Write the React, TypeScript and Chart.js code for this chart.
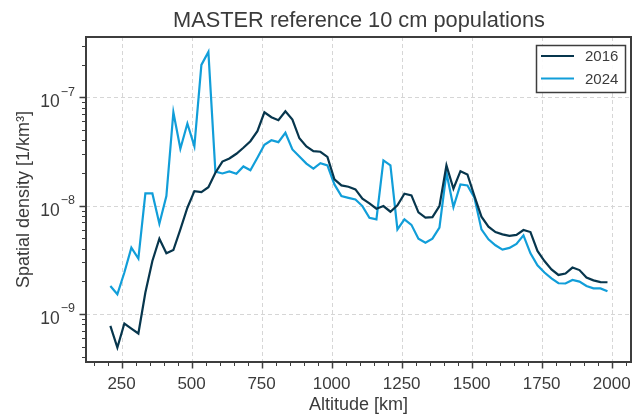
import { useEffect, useRef } from "react";
import { Chart, registerables } from "chart.js";

Chart.register(...registerables);

const altitudes = [
  210, 235, 260, 285, 310, 335, 360, 385, 410, 435, 460, 485, 510, 535, 560, 585,
  610, 635, 660, 685, 710, 735, 760, 785, 810, 835, 860, 885, 910, 935, 960, 985,
  1010, 1035, 1060, 1085, 1110, 1135, 1160, 1185, 1210, 1235, 1260, 1285, 1310, 1335, 1360, 1385,
  1410, 1435, 1460, 1485, 1510, 1535, 1560, 1585, 1610, 1635, 1660, 1685, 1710, 1735, 1760, 1785,
  1810, 1835, 1860, 1885, 1910, 1935, 1960, 1985,
];

const density2016 = [
  7.75e-10, 4.9e-10, 8.16e-10, 7.33e-10, 6.6e-10, 1.575e-9, 3.08e-9, 4.95e-9, 3.63e-9, 3.89e-9, 6.03e-9, 9.56e-9, 1.36e-8, 1.33e-8, 1.48e-8, 2.01e-8,
  2.55e-8, 2.72e-8, 3.01e-8, 3.42e-8, 3.93e-8, 4.86e-8, 7.27e-8, 6.54e-8, 6.14e-8, 7.43e-8, 6.23e-8, 4.18e-8, 3.51e-8, 3.18e-8, 3.14e-8, 2.82e-8,
  1.744e-8, 1.535e-8, 1.493e-8, 1.41e-8, 1.158e-8, 1.048e-8, 9.36e-9, 9.9e-9, 8.78e-9, 1.004e-8, 1.287e-8, 1.242e-8, 8.66e-9, 7.73e-9, 7.83e-9, 9.9e-9,
  2.35e-8, 1.43e-8, 2.08e-8, 1.94e-8, 1.224e-8, 7.9e-9, 6.39e-9, 5.7e-9, 5.43e-9, 5.26e-9, 5.37e-9, 5.95e-9, 5.7e-9, 3.81e-9, 3.08e-9, 2.58e-9,
  2.29e-9, 2.36e-9, 2.68e-9, 2.54e-9, 2.165e-9, 2.04e-9, 1.97e-9, 1.96e-9,
];

const density2024 = [
  1.81e-9, 1.52e-9, 2.41e-9, 4.09e-9, 3.24e-9, 1.295e-8, 1.295e-8, 6.81e-9, 1.224e-8, 7.27e-8, 3.35e-8, 5.72e-8, 3.53e-8, 1.99e-7, 2.62e-7, 2.06e-8,
  1.98e-8, 2.07e-8, 1.97e-8, 2.3e-8, 2.12e-8, 2.76e-8, 3.64e-8, 4.01e-8, 3.85e-8, 4.7e-8, 3.3e-8, 2.84e-8, 2.44e-8, 2.19e-8, 2.46e-8, 2.35e-8,
  1.568e-8, 1.224e-8, 1.18e-8, 1.14e-8, 9.9e-9, 7.73e-9, 7.46e-9, 2.61e-8, 2.35e-8, 6.03e-9, 7.46e-9, 6.64e-9, 4.95e-9, 4.55e-9, 4.95e-9, 6.26e-9,
  2.01e-8, 9.69e-9, 1.568e-8, 1.535e-8, 1.18e-8, 6.03e-9, 4.88e-9, 4.3e-9, 3.92e-9, 4.07e-9, 4.43e-9, 5.31e-9, 3.63e-9, 2.81e-9, 2.41e-9, 2.13e-9,
  1.92e-9, 1.91e-9, 2.06e-9, 1.99e-9, 1.81e-9, 1.725e-9, 1.72e-9, 1.62e-9,
];

const seriesLabels = ["2016", "2024"];
const seriesColors = ["#07364d", "#119ed9"];

const xMajorTicks = [250, 500, 750, 1000, 1250, 1500, 1750, 2000];
const yMajorExponents = [-9, -8, -7];

const titleText = "MASTER reference 10 cm populations";
const xTitleText = "Altitude [km]";
const yTitleText = "Spatial density [1/km³]";

const FONT = "'Liberation Sans', Arial, sans-serif";
const TEXT = "#3b3b3b";
const EDGE = "#3d3d3d";

const mplPlugin = {
  id: "mplStyle",
  beforeDatasetsDraw(chart: any) {
    const { ctx, chartArea: a, scales } = chart;
    const x = scales.x;
    const y = scales.y;
    ctx.save();
    ctx.strokeStyle = "#d6d6d6";
    ctx.lineWidth = 1;
    ctx.setLineDash([4, 3]);
    for (const v of xMajorTicks) {
      const px = Math.round(x.getPixelForValue(v)) + 0.5;
      ctx.beginPath();
      ctx.moveTo(px, a.top);
      ctx.lineTo(px, a.bottom);
      ctx.stroke();
    }
    for (const e of yMajorExponents) {
      const py = Math.round(y.getPixelForValue(Math.pow(10, e))) + 0.5;
      ctx.beginPath();
      ctx.moveTo(a.left, py);
      ctx.lineTo(a.right, py);
      ctx.stroke();
    }
    ctx.restore();
  },
  afterDraw(chart: any) {
    const { ctx, chartArea: a, scales } = chart;
    const x = scales.x;
    const y = scales.y;
    ctx.save();
    ctx.setLineDash([]);
    ctx.strokeStyle = EDGE;

    // minor x ticks every 50 km
    ctx.lineWidth = 1;
    for (let v = 50; v <= 2100; v += 50) {
      if (v % 250 === 0) continue;
      const px = x.getPixelForValue(v);
      if (px < a.left || px > a.right) continue;
      ctx.beginPath();
      ctx.moveTo(Math.round(px) + 0.5, a.bottom);
      ctx.lineTo(Math.round(px) + 0.5, a.bottom + 4);
      ctx.stroke();
    }
    // minor y ticks
    for (let e = -10; e <= -7; e++) {
      for (let m = 2; m <= 9; m++) {
        const val = m * Math.pow(10, e);
        const py = y.getPixelForValue(val);
        if (py < a.top || py > a.bottom) continue;
        ctx.beginPath();
        ctx.moveTo(a.left, Math.round(py) + 0.5);
        ctx.lineTo(a.left - 4, Math.round(py) + 0.5);
        ctx.stroke();
      }
    }
    // major ticks
    ctx.lineWidth = 1.5;
    for (const v of xMajorTicks) {
      const px = Math.round(x.getPixelForValue(v)) + 0.5;
      ctx.beginPath();
      ctx.moveTo(px, a.bottom);
      ctx.lineTo(px, a.bottom + 6.5);
      ctx.stroke();
    }
    for (const e of yMajorExponents) {
      const py = Math.round(y.getPixelForValue(Math.pow(10, e))) + 0.5;
      ctx.beginPath();
      ctx.moveTo(a.left, py);
      ctx.lineTo(a.left - 6.5, py);
      ctx.stroke();
    }

    // frame
    ctx.lineWidth = 2;
    ctx.strokeRect(a.left, a.top, a.right - a.left, a.bottom - a.top);

    // x tick labels
    ctx.fillStyle = TEXT;
    ctx.font = `17px ${FONT}`;
    ctx.textAlign = "center";
    ctx.textBaseline = "alphabetic";
    for (const v of xMajorTicks) {
      ctx.fillText(String(v), x.getPixelForValue(v), a.bottom + 27);
    }

    // y tick labels with superscript
    for (const e of yMajorExponents) {
      const py = y.getPixelForValue(Math.pow(10, e));
      const sup = "\u2212" + String(-e);
      ctx.font = `12.5px ${FONT}`;
      const supW = ctx.measureText(sup).width;
      const right = a.left - 11;
      ctx.textAlign = "left";
      ctx.fillText(sup, right - supW, py - 1.5);
      ctx.font = `17.5px ${FONT}`;
      ctx.textAlign = "right";
      ctx.fillText("10", right - supW - 1, py + 10);
    }

    // axis titles
    ctx.font = `18px ${FONT}`;
    ctx.textAlign = "center";
    ctx.fillText(xTitleText, (a.left + a.right) / 2, 410);
    ctx.save();
    ctx.translate(29, (a.top + a.bottom) / 2);
    ctx.rotate(-Math.PI / 2);
    ctx.fillText(yTitleText, 0, 0);
    ctx.restore();

    // title
    ctx.font = `21.8px ${FONT}`;
    ctx.fillText(titleText, (a.left + a.right) / 2 + 0.5, 27);

    // legend
    const lx = 536, ly = 45, lw = 89, lh = 47;
    ctx.fillStyle = "rgba(255,255,255,0.9)";
    ctx.fillRect(lx, ly, lw, lh);
    ctx.strokeStyle = EDGE;
    ctx.lineWidth = 1.5;
    ctx.strokeRect(lx + 0.5, ly + 0.5, lw, lh);
    ctx.font = `15px ${FONT}`;
    ctx.textAlign = "left";
    ctx.textBaseline = "middle";
    seriesLabels.forEach((lab, i) => {
      const yy = ly + 11 + i * 22.5;
      ctx.strokeStyle = seriesColors[i];
      ctx.lineWidth = 2.2;
      ctx.beginPath();
      ctx.moveTo(lx + 5, yy);
      ctx.lineTo(lx + 38, yy);
      ctx.stroke();
      ctx.fillStyle = TEXT;
      ctx.fillText(lab, lx + 49, yy + 1);
    });
    ctx.restore();
  },
};

export default function App() {
  const canvasRef = useRef<HTMLCanvasElement | null>(null);

  useEffect(() => {
    document.body.style.margin = "0";
    const canvas = canvasRef.current;
    if (!canvas) return;
    const makeSeries = (vals: number[]) => altitudes.map((alt, i) => ({ x: alt, y: vals[i] }));
    const chart = new Chart(canvas, {
      type: "line",
      data: {
        datasets: [
          {
            label: seriesLabels[0],
            data: makeSeries(density2016),
            borderColor: seriesColors[0],
            backgroundColor: seriesColors[0],
            borderWidth: 2.2,
            pointRadius: 0,
            tension: 0,
          },
          {
            label: seriesLabels[1],
            data: makeSeries(density2024),
            borderColor: seriesColors[1],
            backgroundColor: seriesColors[1],
            borderWidth: 2.2,
            pointRadius: 0,
            tension: 0,
          },
        ],
      },
      options: {
        animation: false,
        responsive: false,
        layout: { padding: { left: 86, right: 1, top: 37, bottom: 55 } },
        plugins: {
          legend: { display: false },
          title: { display: false },
          tooltip: { enabled: false },
        },
        scales: {
          x: { type: "linear", display: false, min: 123, max: 2069 },
          y: { type: "logarithmic", display: false, min: 3.6e-10, max: 3.6e-7 },
        },
      } as any,
      plugins: [mplPlugin],
    });
    return () => chart.destroy();
  }, []);

  return (
    <div style={{ width: 632, height: 417, background: "#fff" }}>
      <canvas ref={canvasRef} width={632} height={417} style={{ display: "block" }} />
    </div>
  );
}
